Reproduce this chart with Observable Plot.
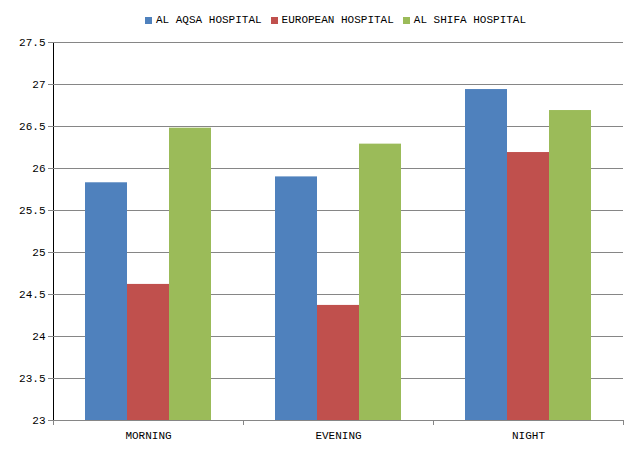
<!DOCTYPE html>
<html>
<head>
<meta charset="utf-8">
<script src="https://cdn.jsdelivr.net/npm/d3@7"></script>
<script src="https://cdn.jsdelivr.net/npm/@observablehq/plot@0.6"></script>
<style>
  body { margin: 0; background: #fff; font-family: "Liberation Mono", "DejaVu Sans Mono", monospace; }
  #legend { height: 30px; padding-top: 10px; display: flex; justify-content: center; align-items: center; font-size: 11px; color: #000; padding-left: 40px; box-sizing: border-box; }
  .item { display: flex; align-items: center; margin-right: 9px; }
  .sw { width: 7px; height: 7px; margin-right: 4px; }
</style>
</head>
<body>
<div id="legend"></div>
<div id="chart"></div>
<script>
const periods = ["MORNING", "EVENING", "NIGHT"];
const hospitals = ["AL AQSA HOSPITAL", "EUROPEAN HOSPITAL", "AL SHIFA HOSPITAL"];
const alAqsa = [25.83, 25.90, 26.94];
const european = [24.62, 24.37, 26.19];
const alShifa = [26.48, 26.29, 26.69];
const colors = ["#4F81BD", "#C0504D", "#9BBB59"];
const yDomain = [23, 27.5];
const yTicks = [23, 23.5, 24, 24.5, 25, 25.5, 26, 26.5, 27, 27.5];

const series = [alAqsa, european, alShifa];
const data = [];
periods.forEach((p, i) => hospitals.forEach((h, j) => data.push({period: p, hospital: h, value: series[j][i]})));

const legend = document.getElementById("legend");
hospitals.forEach((h, j) => {
  const it = document.createElement("div");
  it.className = "item";
  const sw = document.createElement("div");
  sw.className = "sw";
  sw.style.background = colors[j];
  it.appendChild(sw);
  it.appendChild(document.createTextNode(h));
  legend.appendChild(it);
});

const grid = "#868686";
const chart = Plot.plot({
  width: 640,
  height: 429,
  marginTop: 12,
  marginBottom: 39,
  marginLeft: 52,
  marginRight: 17,
  style: {fontFamily: "'Liberation Mono', 'DejaVu Sans Mono', monospace", fontSize: "11px", color: "#000", background: "#fff"},
  fx: {domain: periods, padding: 0, axis: "bottom", tickSize: 0, tickPadding: 11, label: null},
  x: {domain: hospitals, paddingInner: 0, paddingOuter: 0.71, axis: null},
  y: {domain: yDomain, ticks: yTicks, tickSize: 5, tickPadding: 3, label: null, line: true, tickFormat: d => String(d)},
  color: {domain: hospitals, range: colors},
  marks: [
    Plot.gridY(yTicks, {stroke: grid, strokeOpacity: 1}),
    Plot.barY(data, {fx: "period", x: "hospital", y1: yDomain[0], y2: "value", fill: "hospital", inset: 0}),
    Plot.frame({anchor: "left", stroke: grid, insetTop: 378, insetBottom: -4}),
    Plot.frame({anchor: "right", stroke: grid, insetTop: 378, insetBottom: -4}),
    Plot.frame({anchor: "bottom", stroke: grid})
  ]
});
chart.querySelectorAll('[aria-label="y-axis tick"], [aria-label="y-axis line"], [aria-label="y-axis tick"] path').forEach(e => e.setAttribute("stroke", grid));
document.getElementById("chart").appendChild(chart);
</script>
</body>
</html>
